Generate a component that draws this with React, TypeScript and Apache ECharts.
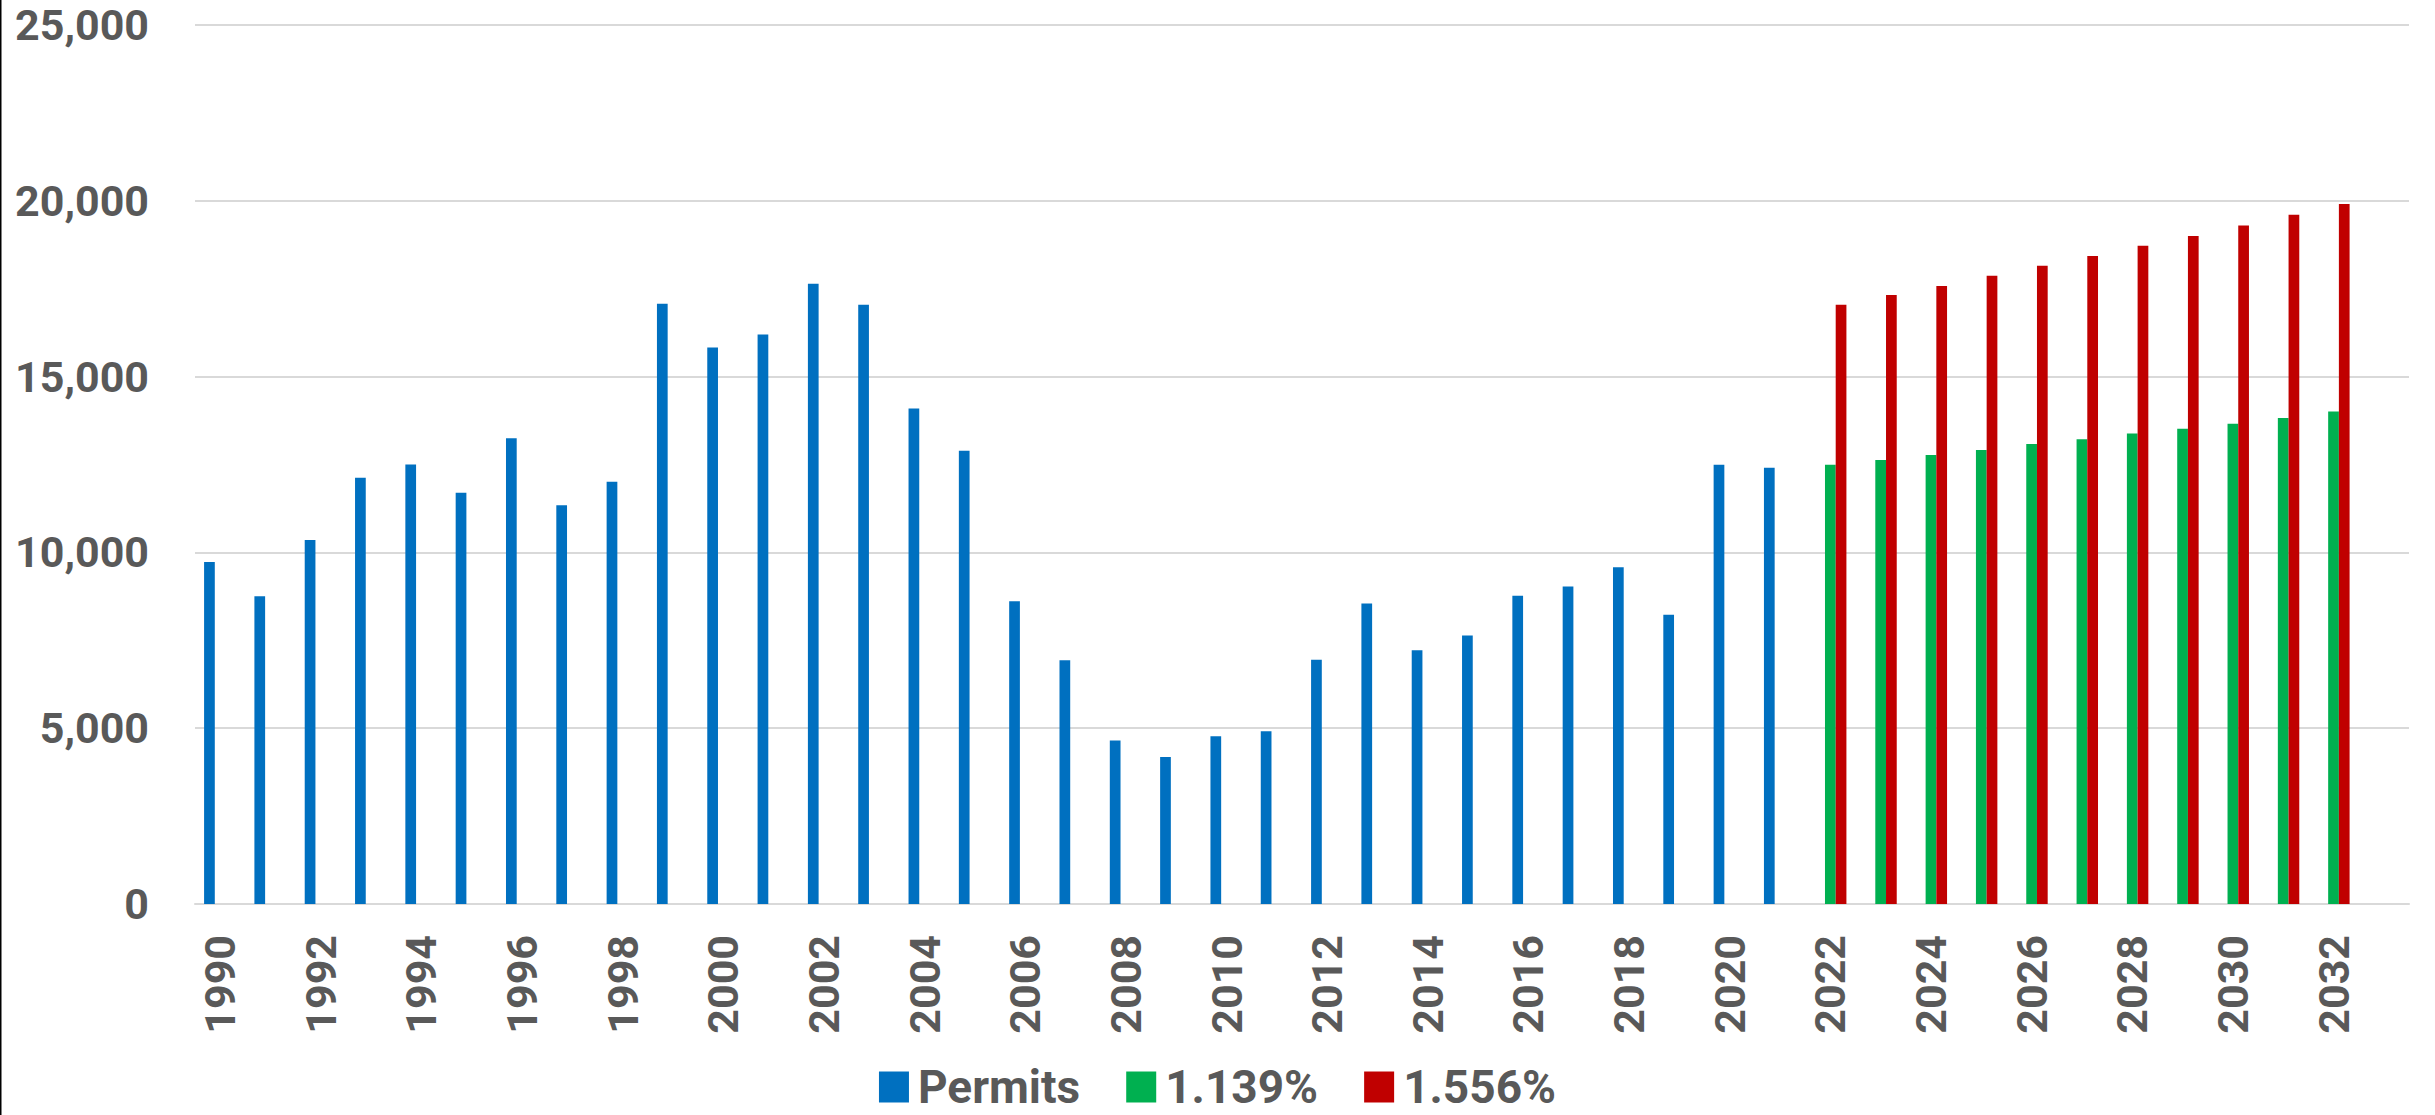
import React, { useEffect, useRef } from "react";
import * as echarts from "echarts";

const years: string[] = [
  "1990", "1991", "1992", "1993", "1994", "1995", "1996", "1997", "1998", "1999",
  "2000", "2001", "2002", "2003", "2004", "2005", "2006", "2007", "2008", "2009",
  "2010", "2011", "2012", "2013", "2014", "2015", "2016", "2017", "2018", "2019",
  "2020", "2021", "2022", "2023", "2024", "2025", "2026", "2027", "2028", "2029",
  "2030", "2031", "2032", "2033",
];

// Permits 1990–2021
const permits: number[] = [
  9730, 8750, 10350, 12120, 12500, 11700, 13250, 11340, 12010, 17070,
  15830, 16200, 17640, 17040, 14090, 12890, 8610, 6930, 4650, 4180,
  4770, 4910, 6950, 8550, 7220, 7640, 8770, 9030, 9580, 8230,
  12490, 12410,
];

// Projections 2022–2032
const projectionStart = "2022";
const growth1139: number[] = [
  12490, 12630, 12770, 12910, 13080, 13220, 13380, 13520, 13660, 13820, 14010,
];
const growth1556: number[] = [
  17040, 17320, 17580, 17870, 18150, 18430, 18720, 19000, 19300, 19600, 19910,
];

const yTicks = { min: 0, max: 25000, interval: 5000 };

const seriesNames = ["Permits", "1.139%", "1.556%"];
const seriesColors = ["#0070C0", "#00B050", "#C00000"];

export default function App() {
  const ref = useRef<HTMLDivElement>(null);

  useEffect(() => {
    if (!ref.current) return;
    const chart = echarts.init(ref.current, undefined, { renderer: "svg" });
    const startIdx = years.indexOf(projectionStart);
    const permitsData = years.map((_, i) => (i < permits.length ? permits[i] : null));
    const g1 = years.map((_, i) => {
      const k = i - startIdx;
      return k >= 0 && k < growth1139.length ? growth1139[k] : null;
    });
    const g2 = years.map((_, i) => {
      const k = i - startIdx;
      return k >= 0 && k < growth1556.length ? growth1556[k] : null;
    });
    const font = "Roboto, 'Noto Sans', sans-serif";
    const textColor = "#595959";

    chart.setOption({
      animation: false,
      backgroundColor: "#ffffff",
      grid: { left: 195, right: 26, top: 25, bottom: 211, containLabel: false },
      legend: {
        data: seriesNames,
        top: 1064,
        left: "center",
        padding: 0,
        itemWidth: 30,
        itemHeight: 31,
        itemGap: 46,
        icon: "rect",
        textStyle: {
          fontFamily: font,
          fontWeight: "bold",
          fontSize: 46,
          lineHeight: 40,
          color: textColor,
          padding: [0, 0, 0, 4],
        },
      },
      xAxis: {
        type: "category",
        data: years,
        axisLine: { show: true, lineStyle: { color: "#D9D9D9", width: 2 } },
        axisTick: { show: false },
        axisLabel: {
          interval: 1,
          rotate: 90,
          margin: 31,
          fontFamily: font,
          fontWeight: "bold",
          fontSize: 43,
          color: textColor,
        },
      },
      yAxis: {
        type: "value",
        min: yTicks.min,
        max: yTicks.max,
        interval: yTicks.interval,
        axisLine: { show: false },
        axisTick: { show: false },
        splitLine: { lineStyle: { color: "#D9D9D9", width: 2 } },
        axisLabel: {
          margin: 46,
          fontFamily: font,
          fontWeight: "bold",
          fontSize: 43,
          color: textColor,
          formatter: (v: number) => v.toLocaleString("en-US"),
        },
      },
      series: [
        { name: seriesNames[0], type: "bar", data: permitsData },
        { name: seriesNames[1], type: "bar", data: g1 },
        { name: seriesNames[2], type: "bar", data: g2 },
      ].map((s, i) => ({
        ...s,
        barWidth: "21.3%",
        barGap: "0%",
        itemStyle: { color: seriesColors[i] },
      })),
      graphic: [
        {
          type: "rect",
          shape: { x: 0, y: 0, width: 1.5, height: 1115 },
          style: { fill: "#000000" },
        },
      ],
    });
    return () => chart.dispose();
  }, []);

  return (
    <div
      ref={ref}
      style={{ position: "fixed", left: 0, top: 0, width: 2435, height: 1115 }}
    />
  );
}
